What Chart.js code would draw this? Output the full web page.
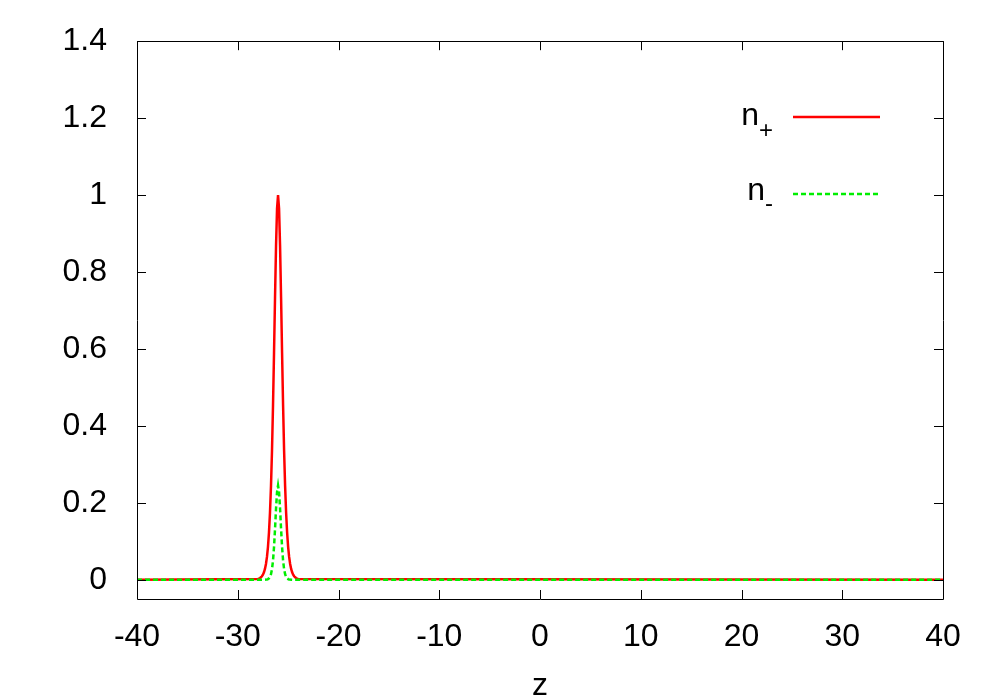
<!DOCTYPE html>
<html>
<head>
<meta charset="utf-8">
<script src="https://cdn.jsdelivr.net/npm/chart.js@4/dist/chart.umd.min.js"></script>
<style>
html,body{margin:0;padding:0;background:#fff;}
#wrap{width:1000px;height:700px;}
</style>
</head>
<body>
<div id="wrap"><canvas id="c" width="1000" height="700"></canvas></div>
<script>
const zValues = [-40,
  -28.0,-27.9,-27.8,-27.7,-27.6,-27.5,-27.4,-27.3,-27.2,-27.1,
  -27.0,-26.9,-26.8,-26.7,-26.6,-26.5,-26.4,-26.3,-26.2,-26.1,
  -26.0,-25.9,-25.8,-25.7,-25.6,-25.5,-25.4,-25.3,-25.2,-25.1,
  -25.0,-24.9,-24.8,-24.7,-24.6,-24.5,-24.4,-24.3,-24.2,-24.1,-24.0,
  40];
const nPlus = [0,
  0.002,0.0029,0.0043,0.0062,0.0091,0.0133,0.0195,0.0282,0.041,0.0595,
  0.0855,0.123,0.175,0.244,0.336,0.453,0.589,0.734,0.868,0.965,
  1.0,0.965,0.868,0.734,0.589,0.453,0.336,0.244,0.175,0.123,
  0.0855,0.0595,0.041,0.0282,0.0195,0.0133,0.0091,0.0062,0.0043,0.0029,0.002,
  0];
const nMinus = [0,
  0,0,0,0,0,0,0,0.0002,0.0004,0.0009,
  0.0018,0.0037,0.0075,0.0146,0.028,0.050,0.085,0.132,0.185,0.228,
  0.245,0.228,0.185,0.132,0.085,0.050,0.028,0.0146,0.0075,0.0037,
  0.0018,0.0009,0.0004,0.0002,0,0,0,0,0,0,0,
  0];
const xTicks = [-40,-30,-20,-10,0,10,20,30,40];
const yTicks = [0,0.2,0.4,0.6,0.8,1,1.2,1.4];
const seriesNames = ['n+', 'n-'];
const xTitle = 'z';

const FONT = 'Liberation Sans, Arial, Helvetica, sans-serif';
const RED = '#ff0000';
const GREEN = '#00ee00';

const framePlugin = {
  id: 'frame',
  afterDraw(chart) {
    const ctx = chart.ctx;
    const a = chart.chartArea;
    const xs = chart.scales.x, ys = chart.scales.y;
    ctx.save();
    ctx.strokeStyle = '#000';
    ctx.lineWidth = 1;
    ctx.beginPath();
    ctx.rect(Math.round(a.left)+0.5, Math.round(a.top)+0.5, Math.round(a.right-a.left), Math.round(a.bottom-a.top));
    ctx.stroke();
    const L = 9;
    ctx.beginPath();
    xTicks.forEach(v => {
      const px = Math.round(xs.getPixelForValue(v)) + 0.5;
      ctx.moveTo(px, a.bottom); ctx.lineTo(px, a.bottom - L);
      ctx.moveTo(px, a.top); ctx.lineTo(px, a.top + L);
    });
    yTicks.forEach(v => {
      const py = Math.round(ys.getPixelForValue(v)) + 0.5;
      ctx.moveTo(a.left, py); ctx.lineTo(a.left + L, py);
      ctx.moveTo(a.right, py); ctx.lineTo(a.right - L, py);
    });
    ctx.stroke();

    // legend (gnuplot style: label left, sample right)
    const items = [
      {base: 'n', sub: '+', color: RED, dash: [], y: 117, baseY: 125, subY: 138},
      {base: 'n', sub: '-', color: GREEN, dash: [5,3], y: 194, baseY: 200, subY: 211}
    ];
    items.forEach(it => {
      ctx.fillStyle = '#000';
      ctx.textBaseline = 'alphabetic';
      ctx.textAlign = 'left';
      const mainFont = '32px ' + FONT;
      const subFont = '24px ' + FONT;
      ctx.font = subFont;
      const sw = ctx.measureText(it.sub).width;
      ctx.font = mainFont;
      const bw = ctx.measureText(it.base).width;
      const rightEdge = 773;
      const bx = rightEdge - sw - bw;
      ctx.fillText(it.base, bx, it.baseY);
      ctx.font = subFont;
      ctx.fillText(it.sub, bx + bw, it.subY);
      ctx.strokeStyle = it.color;
      ctx.lineWidth = 2.5;
      ctx.setLineDash(it.dash);
      ctx.beginPath();
      ctx.moveTo(793, it.y); ctx.lineTo(880, it.y);
      ctx.stroke();
      ctx.setLineDash([]);
    });
    ctx.restore();
  }
};

new Chart(document.getElementById('c'), {
  type: 'scatter',
  data: {
    datasets: [
      {label: seriesNames[0], data: zValues.map((z,i)=>({x:z,y:nPlus[i]})), showLine: true,
       borderColor: RED, borderWidth: 2.5, pointRadius: 0, tension: 0, order: 2},
      {label: seriesNames[1], data: zValues.map((z,i)=>({x:z,y:nMinus[i]})), showLine: true,
       borderColor: GREEN, borderWidth: 2.5, borderDash: [5,3], pointRadius: 0, tension: 0, order: 1}
    ]
  },
  options: {
    responsive: false,
    animation: false,
    devicePixelRatio: 1,
    layout: {padding: {top: 40, right: 57, left: 0, bottom: 0}},
    plugins: {legend: {display: false}, tooltip: {enabled: false}},
    scales: {
      x: {
        type: 'linear', min: -40, max: 40,
        afterBuildTicks: s => { s.ticks = xTicks.map(v => ({value: v})); },
        afterFit: s => { s.height = 101; },
        grid: {display: false}, border: {display: false},
        ticks: {color: '#000', font: {family: FONT, size: 32}, padding: 11, maxRotation: 0},
        title: {display: true, text: xTitle, color: '#000', font: {family: FONT, size: 32}, padding: {top: 0, bottom: -5}}
      },
      y: {
        type: 'linear', min: -0.05, max: 1.4,
        afterBuildTicks: s => { s.ticks = yTicks.map(v => ({value: v})); },
        afterFit: s => { s.width = 137; },
        grid: {display: false}, border: {display: false},
        ticks: {color: '#000', font: {family: FONT, size: 32}, padding: 22, callback: v => String(v)}
      }
    }
  },
  plugins: [framePlugin]
});
</script>
</body>
</html>
